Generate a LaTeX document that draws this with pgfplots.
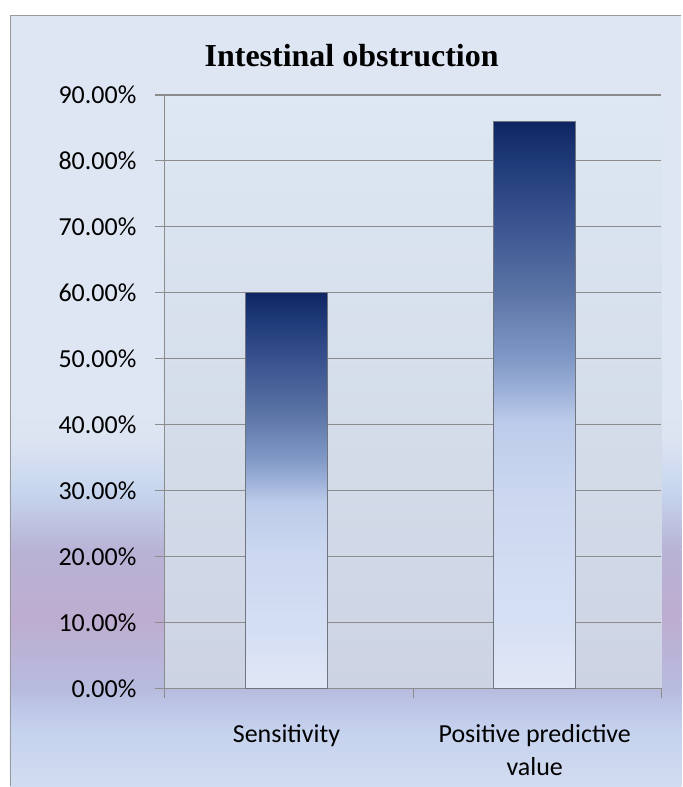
\documentclass[border=0pt]{standalone}
\usepackage{pgfplots}
\pgfplotsset{compat=1.18}
\usepackage{fontspec}
\setmainfont{Carlito}
\newfontfamily\titlefont{Liberation Serif}

\definecolor{bgtop}{HTML}{DFE6F3}
\definecolor{bgA}{HTML}{DCE4F2}
\definecolor{bgB}{HTML}{C7D6EE}
\definecolor{bgC}{HTML}{B8B3D6}
\definecolor{bgD}{HTML}{BDADD0}
\definecolor{bgE}{HTML}{B7BCDF}
\definecolor{bgF}{HTML}{C5D2EE}
\definecolor{bgG}{HTML}{D2DCF0}
\definecolor{plottop}{HTML}{DDE8F2}
\definecolor{plotbot}{HTML}{CDD3E3}
\definecolor{gridgray}{HTML}{8C8C8C}
\definecolor{bordergray}{HTML}{9A9A9A}
\definecolor{s1}{HTML}{0F2563}
\definecolor{s2}{HTML}{1F3A78}
\definecolor{s3}{HTML}{3A5590}
\definecolor{s4}{HTML}{5A73A5}
\definecolor{s5}{HTML}{8199C6}
\definecolor{s6}{HTML}{9FB3DA}
\definecolor{s7}{HTML}{BCCBE9}
\definecolor{s8}{HTML}{CBD7F0}
\definecolor{s9}{HTML}{D6E0F4}
\definecolor{s10}{HTML}{E2E7F6}
\definecolor{baredge}{HTML}{707580}

\pgfdeclareverticalshading{barshade}{100bp}{color(0bp)=(s10); color(25bp)=(s10); color(31bp)=(s9); color(42.5bp)=(s8); color(48.5bp)=(s7); color(51bp)=(s6); color(54bp)=(s5); color(60bp)=(s4); color(66bp)=(s3); color(71.5bp)=(s2); color(75bp)=(s1); color(100bp)=(s1)}

\begin{document}
\begin{tikzpicture}[x=1pt,y=1pt]
\fill[white] (0,0) rectangle (682,-787);
% chart area background
\fill[bgtop] (10,-15) rectangle (682,-400.5);
\shade[top color=bgtop, bottom color=bgA] (10,-400) rectangle (682,-440.5);
\shade[top color=bgA, bottom color=bgB] (10,-440) rectangle (682,-490.5);
\shade[top color=bgB, bottom color=bgC] (10,-490) rectangle (682,-550.5);
\shade[top color=bgC, bottom color=bgD] (10,-550) rectangle (682,-620.5);
\shade[top color=bgD, bottom color=bgE] (10,-620) rectangle (682,-690.5);
\shade[top color=bgE, bottom color=bgF] (10,-690) rectangle (682,-730.5);
\shade[top color=bgF, bottom color=bgG] (10,-730) rectangle (682,-787);
\draw[bordergray, line width=1.5] (10.75,-787) -- (10.75,-15.75) -- (682,-15.75);

\node[font=\titlefont\bfseries\fontsize{32}{38}\selectfont] at (352,-56) {Intestinal obstruction};

\begin{axis}[
  at={(165pt,-689pt)}, anchor=south west,
  scale only axis, width=497pt, height=594pt,
  xmin=-0.49, xmax=1.51, ymin=0, ymax=90,
  axis lines*=left,
  axis line style={draw=gridgray, line width=1.2pt},
  axis background/.style={shade, top color=plottop, bottom color=plotbot},
  /pgf/number format/assume math mode=true,
  tick label style={font=\fontsize{26}{33}\selectfont, text=black},
  ytick={0,10,20,30,40,50,60,70,80,90},
  yticklabels={0.00\%,10.00\%,20.00\%,30.00\%,40.00\%,50.00\%,60.00\%,70.00\%,80.00\%,90.00\%},
  yticklabel style={xshift=-15pt},
  ymajorgrids,
  major grid style={gridgray, line width=1.2pt},
  tick style={gridgray, line width=1.2pt},
  tick align=outside,
  major tick length=10pt,
  xtick={-0.49,0.51,1.51},
  xticklabels={},
  extra x ticks={0,1},
  extra x tick labels={Sensitivity,{Positive predictive\\value}},
  extra x tick style={major tick length=0pt, tick style={draw=none}, xticklabel style={align=center, yshift=-33pt}},
  clip=false,
]
\addplot[ybar, bar width=82pt, shade, shading=barshade, draw=baredge, line width=1.4pt]
  coordinates {(0,60)};
\addplot[ybar, bar width=82pt, shade, shading=barshade, draw=baredge, line width=1.4pt]
  coordinates {(1,86)};
\end{axis}
\end{tikzpicture}
\end{document}
